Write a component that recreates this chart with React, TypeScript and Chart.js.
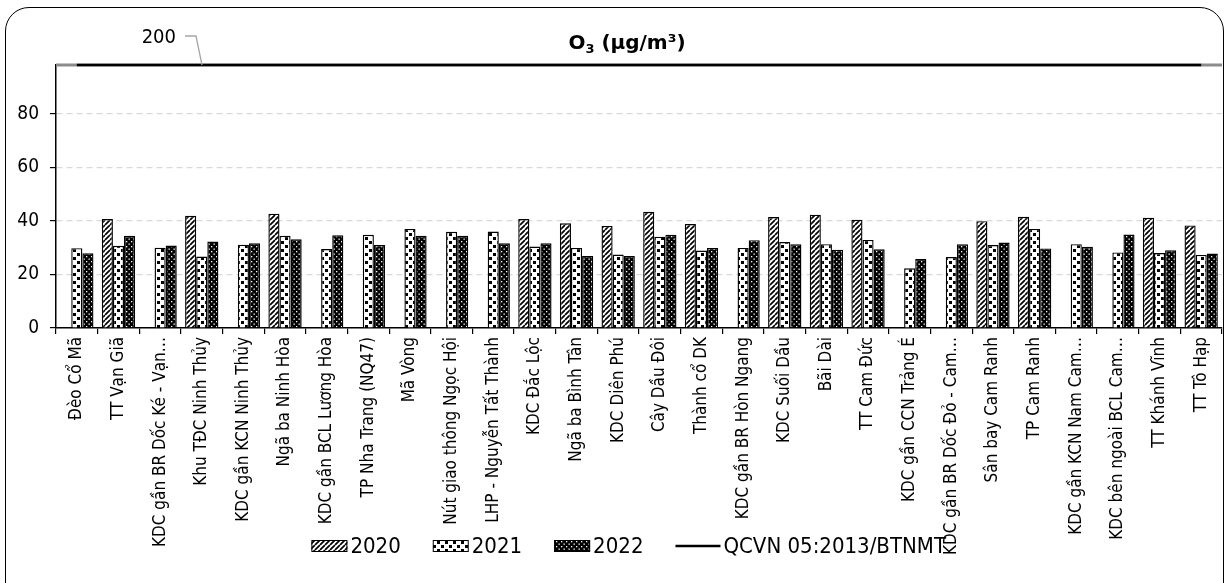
import React, { useEffect, useRef } from 'react';
import { Chart, registerables } from 'chart.js';

Chart.register(...registerables);

const categories = [
  'Đèo Cổ Mã',
  'TT Vạn Giã',
  'KDC gần BR Dốc Ké - Vạn…',
  'Khu TĐC Ninh Thủy',
  'KDC gần KCN Ninh Thủy',
  'Ngã ba Ninh Hòa',
  'KDC gần BCL Lương Hòa',
  'TP Nha Trang (NQ47)',
  'Mã Vòng',
  'Nút giao thông Ngọc Hội',
  'LHP - Nguyễn Tất Thành',
  'KDC Đắc Lộc',
  'Ngã ba Bình Tân',
  'KDC Diên Phú',
  'Cây Dầu Đôi',
  'Thành cổ DK',
  'KDC gần BR Hòn Ngang',
  'KDC Suối Dầu',
  'Bãi Dài',
  'TT Cam Đức',
  'KDC gần CCN Trảng É',
  'KDC gần BR Dốc Đỏ - Cam…',
  'Sân bay Cam Ranh',
  'TP Cam Ranh',
  'KDC gần KCN Nam Cam…',
  'KDC bên ngoài BCL Cam…',
  'TT Khánh Vĩnh',
  'TT Tô Hạp',
];

const values2020 = [
  null, 40.7, null, 41.9, null, 42.7, null, null, null, null, null, 40.7, 39.1, 38.1,
  43.4, 38.8, null, 41.4, 42.3, 40.4, null, null, 39.9, 41.5, null, null, 41.2, 38.3,
];
const values2021 = [
  29.8, 30.7, 30.0, 26.7, 31.1, 34.4, 29.5, 34.8, 37.0, 35.9, 36.0, 30.4, 29.9, 27.4,
  34.1, 28.9, 29.9, 32.1, 31.3, 32.9, 22.3, 26.5, 31.0, 37.0, 31.3, 28.2, 28.0, 27.3,
];
const values2022 = [
  27.9, 34.4, 30.8, 32.3, 31.6, 33.1, 34.6, 31.0, 34.4, 34.4, 31.6, 31.6, 26.9, 26.9,
  34.8, 29.9, 32.8, 31.3, 29.2, 29.4, 25.8, 31.3, 31.9, 29.7, 30.3, 34.9, 29.0, 27.8,
];
const qcvnLimit = [
  200, 200, 200, 200, 200, 200, 200, 200, 200, 200, 200, 200, 200, 200,
  200, 200, 200, 200, 200, 200, 200, 200, 200, 200, 200, 200, 200, 200,
];
const yTicks = [0, 20, 40, 60, 80];
const Y_MAX = 98.2; // axis is broken above this value; the limit line sits on the break
const seriesLabels = ['2020', '2021', '2022', 'QCVN 05:2013/BTNMT'];

const FONT = "'DejaVu Sans Condensed', 'Liberation Sans', sans-serif";
const TITLE_FONT = "'DejaVu Sans', sans-serif";

function makePattern(kind: string): CanvasPattern | string {
  const c = document.createElement('canvas');
  const ctx = c.getContext('2d');
  if (!ctx) return '#888';
  if (kind === 'diag') {
    const s = 5;
    c.width = s; c.height = s;
    ctx.fillStyle = '#fff';
    ctx.fillRect(0, 0, s, s);
    ctx.strokeStyle = '#000';
    ctx.lineWidth = 1.7;
    ctx.beginPath();
    for (let k = -1; k <= 1; k++) {
      ctx.moveTo(k * s, s);
      ctx.lineTo(k * s + s, 0);
    }
    ctx.stroke();
  } else if (kind === 'check') {
    c.width = 8; c.height = 8;
    ctx.fillStyle = '#fff';
    ctx.fillRect(0, 0, 8, 8);
    ctx.fillStyle = '#000';
    ctx.fillRect(1, 1, 3, 3);
    ctx.fillRect(5, 5, 3, 3);
  } else {
    c.width = 5; c.height = 5;
    ctx.fillStyle = '#000';
    ctx.fillRect(0, 0, 5, 5);
    ctx.fillStyle = '#fff';
    ctx.fillRect(1, 1, 1.3, 1.3);
    ctx.fillRect(3.5, 3.5, 1.3, 1.3);
  }
  return ctx.createPattern(c, 'repeat') || '#888';
}

const overlayPlugin = {
  id: 'overlay',
  beforeDatasetsDraw(chart: any) {
    const { ctx, chartArea } = chart;
    ctx.save();
    ctx.strokeStyle = '#8c8c8c';
    ctx.lineWidth = 3;
    ctx.beginPath();
    ctx.moveTo(chartArea.left, chartArea.top);
    ctx.lineTo(chartArea.right, chartArea.top);
    ctx.stroke();
    ctx.restore();
  },
  afterDraw(chart: any) {
    const { ctx, chartArea, scales } = chart;
    ctx.save();
    // Title O3 (µg/m³)
    const big = `bold 20px ${TITLE_FONT}`;
    const small = `bold 13px ${TITLE_FONT}`;
    ctx.font = big;
    const wO = ctx.measureText('O').width;
    const wRest = ctx.measureText(' (μg/m³)').width;
    ctx.font = small;
    const w3 = ctx.measureText('3').width;
    const total = wO + w3 + wRest;
    const cx = 627;
    const baseY = 49;
    let x = cx - total / 2;
    ctx.fillStyle = '#000';
    ctx.textBaseline = 'alphabetic';
    ctx.textAlign = 'left';
    ctx.font = big;
    ctx.fillText('O', x, baseY);
    x += wO;
    ctx.font = small;
    ctx.fillText('3', x, baseY + 4);
    x += w3;
    ctx.font = big;
    ctx.fillText(' (μg/m³)', x, baseY);

    // limit label with callout
    const lineY = scales.y.getPixelForValue(Math.min(qcvnLimit[0], Y_MAX));
    ctx.font = `20px ${FONT}`;
    ctx.textAlign = 'right';
    ctx.textBaseline = 'middle';
    ctx.fillText(String(qcvnLimit[0]), 176, 38);
    ctx.strokeStyle = '#a6a6a6';
    ctx.lineWidth = 1.3;
    ctx.beginPath();
    ctx.moveTo(185, 36);
    ctx.lineTo(196, 36);
    ctx.lineTo(chartArea.left + 146, lineY);
    ctx.stroke();

    // Legend
    const legendFont = `22px ${FONT}`;
    ctx.font = legendFont;
    const boxW = 36;
    const boxH = 12;
    const lineW = 45;
    const gapText = 3;
    const gapItem = 32;
    const items = chart.data.datasets.map((ds: any) => {
      const symW = ds.type === 'line' ? lineW : boxW;
      const tw = ctx.measureText(ds.label).width;
      return { ds, symW, tw };
    });
    const totalW = items.reduce((a: number, it: any) => a + it.symW + gapText + it.tw, 0) + gapItem * (items.length - 1);
    const rightEnd = 946;
    let lx = rightEnd - totalW;
    const cy = 546;
    ctx.textAlign = 'left';
    ctx.textBaseline = 'middle';
    items.forEach((it: any) => {
      if (it.ds.type === 'line') {
        ctx.strokeStyle = it.ds.borderColor;
        ctx.lineWidth = it.ds.borderWidth;
        ctx.beginPath();
        ctx.moveTo(lx, cy);
        ctx.lineTo(lx + it.symW, cy);
        ctx.stroke();
      } else {
        ctx.fillStyle = it.ds.backgroundColor;
        ctx.fillRect(lx, cy - boxH / 2, it.symW, boxH);
        ctx.strokeStyle = '#000';
        ctx.lineWidth = 1;
        ctx.strokeRect(lx + 0.5, cy - boxH / 2 + 0.5, it.symW - 1, boxH - 1);
      }
      lx += it.symW + gapText;
      ctx.fillStyle = '#000';
      ctx.fillText(it.ds.label, lx, cy + 1);
      lx += it.tw + gapItem;
    });
    ctx.restore();
  },
};

export default function App() {
  const ref = useRef<HTMLCanvasElement>(null);
  useEffect(() => {
    if (!ref.current) return;
    const p2020 = makePattern('diag');
    const p2021 = makePattern('check');
    const p2022 = makePattern('dots');
    const barCommon = {
      borderColor: '#000',
      borderWidth: 1.4,
      categoryPercentage: 0.8,
      barPercentage: 1,
      order: 2,
    };
    const chart = new Chart(ref.current, {
      type: 'bar',
      data: {
        labels: categories,
        datasets: [
          { ...barCommon, label: seriesLabels[0], data: values2020, backgroundColor: p2020 },
          { ...barCommon, label: seriesLabels[1], data: values2021, backgroundColor: p2021 },
          { ...barCommon, label: seriesLabels[2], data: values2022, backgroundColor: p2022 },
          {
            type: 'line',
            label: seriesLabels[3],
            data: qcvnLimit.map((v) => Math.min(v, Y_MAX)),
            borderColor: '#000',
            backgroundColor: '#000',
            borderWidth: 2.5,
            pointRadius: 0,
            fill: false,
            clip: false,
            order: 0,
          } as any,
        ],
      },
      options: {
        responsive: false,
        animation: false,
        layout: { padding: { left: 0, right: 7, top: 65, bottom: 5 } },
        scales: {
          x: {
            grid: { offset: true, drawOnChartArea: false, tickLength: 6, color: '#000', lineWidth: 1.2 },
            border: { color: '#000', width: 1.5 },
            ticks: {
              autoSkip: false,
              maxRotation: 90,
              minRotation: 90,
              font: { family: FONT, size: 17 },
              color: '#000',
              padding: 3,
            },
            afterFit: (s: any) => { s.height = 250; },
          },
          y: {
            min: 0,
            max: Y_MAX,
            afterBuildTicks: (s: any) => { s.ticks = yTicks.map((v) => ({ value: v })); },
            grid: { color: '#d9d9d9', lineWidth: 1.2, tickColor: '#000', tickLength: 6 },
            border: { color: '#000', width: 1.5, dash: [6, 4] },
            ticks: { font: { family: FONT, size: 19 }, color: '#000', padding: 11 },
            afterFit: (s: any) => { s.width = 56; },
          },
        },
        plugins: {
          tooltip: { enabled: false },
          title: { display: false },
          legend: { display: false },
        },
      } as any,
      plugins: [overlayPlugin],
    });
    return () => chart.destroy();
  }, []);
  return (
    <div style={{ position: 'absolute', left: 0, top: 0, width: 1229, height: 583, overflow: 'hidden', background: '#fff' }}>
      <div
        style={{
          position: 'absolute',
          left: 5,
          top: 7,
          width: 1219,
          height: 650,
          border: '1.5px solid #000',
          borderRadius: 24,
          boxSizing: 'border-box',
        }}
      />
      <canvas ref={ref} width={1229} height={583} style={{ position: 'absolute', left: 0, top: 0 }} />
    </div>
  );
}
